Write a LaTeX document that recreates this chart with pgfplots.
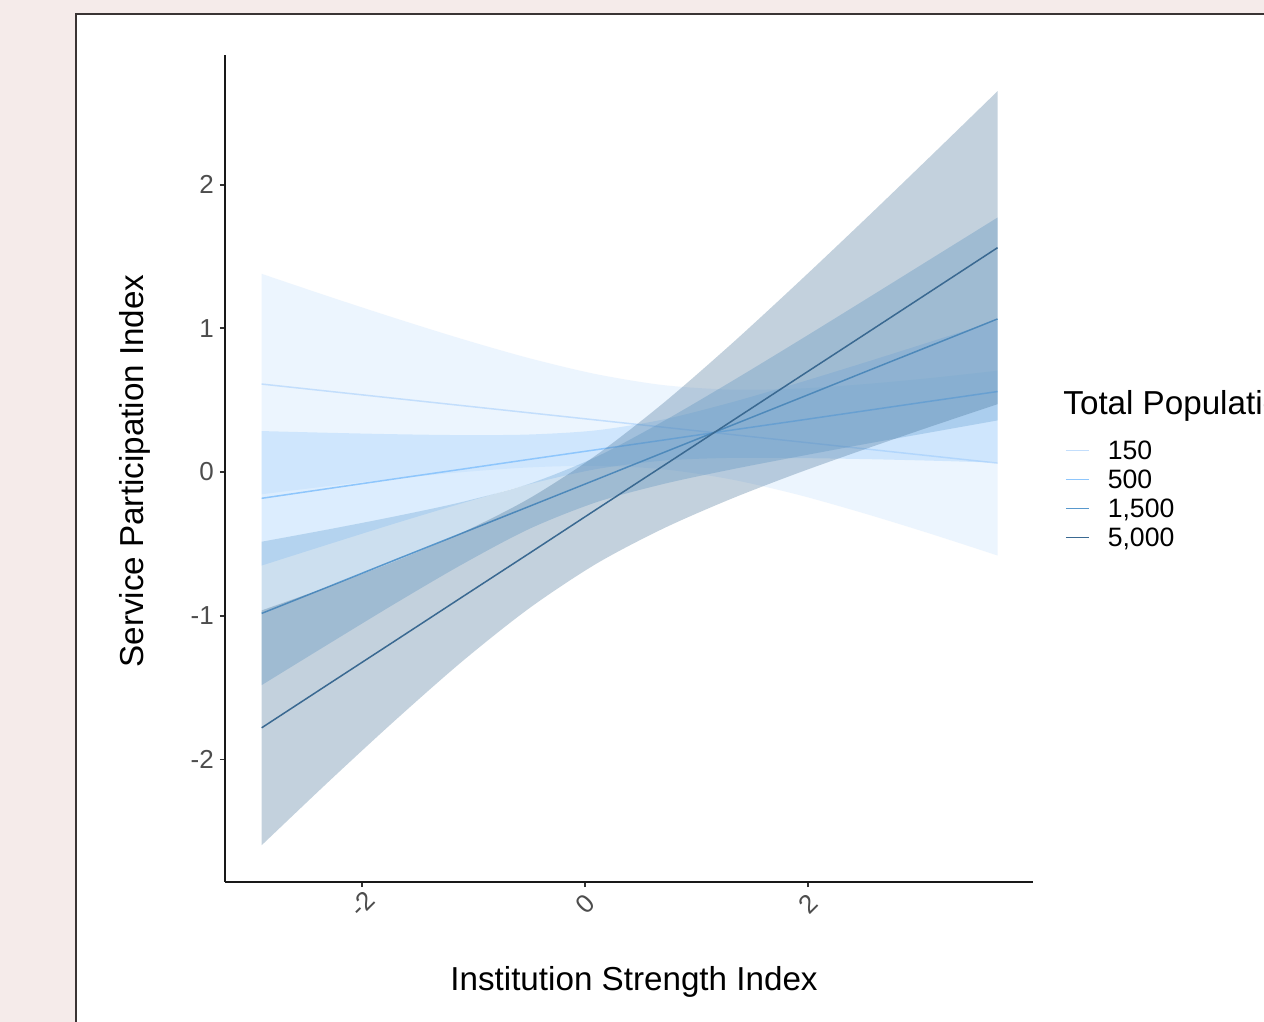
\documentclass[border=0pt]{standalone}
\usepackage{fontspec}
\setmainfont{Liberation Sans}
\usepackage{pgfplots}
\usepackage{pgfplotstable}
\pgfplotsset{compat=1.18}
\usepgfplotslibrary{fillbetween}

\definecolor{bgpink}{HTML}{F5EBEA}
\definecolor{panelborder}{HTML}{3A3434}
\definecolor{cA}{HTML}{C3DEFC}
\definecolor{cB}{HTML}{8EC6FC}
\definecolor{cC}{HTML}{5898CD}
\definecolor{cD}{HTML}{3A6991}
\definecolor{tickgray}{HTML}{4D4D4D}

% x  lower  upper  fit
\pgfplotstableread{
x lo hi mid
-2.9 -0.155 1.379 0.612
-2.3 -0.098 1.222 0.562
-1.7 -0.046 1.070 0.512
-1.1 -0.001 0.925 0.462
-0.5 0.032 0.792 0.412
0.1 0.043 0.681 0.362
0.7 0.019 0.605 0.312
1.3 -0.050 0.574 0.262
1.9 -0.156 0.580 0.212
2.5 -0.287 0.611 0.162
3.1 -0.430 0.654 0.112
3.7 -0.581 0.705 0.062
}\bandA
\pgfplotstableread{
x lo hi mid
-2.9 -0.651 0.285 -0.183
-2.3 -0.503 0.273 -0.115
-1.7 -0.357 0.263 -0.047
-1.1 -0.217 0.257 0.020
-0.5 -0.085 0.261 0.088
0.1 0.020 0.290 0.155
0.7 0.079 0.365 0.222
1.3 0.098 0.482 0.290
1.9 0.097 0.617 0.357
2.5 0.090 0.760 0.425
3.1 0.079 0.907 0.493
3.7 0.065 1.055 0.560
}\bandB
\pgfplotstableread{
x lo hi mid
-2.9 -1.483 -0.485 -0.984
-2.3 -1.197 -0.399 -0.798
-1.7 -0.914 -0.308 -0.611
-1.1 -0.642 -0.208 -0.425
-0.5 -0.396 -0.082 -0.239
0.1 -0.211 0.105 -0.053
0.7 -0.084 0.352 0.134
1.3 0.016 0.624 0.320
1.9 0.106 0.906 0.506
2.5 0.193 1.193 0.693
3.1 0.276 1.482 0.879
3.7 0.359 1.771 1.065
}\bandC
\pgfplotstableread{
x lo hi mid
-2.9 -2.597 -0.963 -1.780
-2.3 -2.155 -0.797 -1.476
-1.7 -1.726 -0.620 -1.173
-1.1 -1.317 -0.421 -0.869
-0.5 -0.948 -0.184 -0.566
0.1 -0.639 0.117 -0.261
0.7 -0.394 0.478 0.042
1.3 -0.190 0.882 0.346
1.9 -0.010 1.310 0.650
2.5 0.156 1.750 0.953
3.1 0.316 2.198 1.257
3.7 0.472 2.650 1.561
}\bandD

\begin{document}
\begin{tikzpicture}
\begin{axis}[
  set layers,
  at={(0pt,0pt)}, anchor=south west,
  scale only axis,
  width=404pt, height=413.5pt,
  xmin=-3.229, xmax=4.018,
  ymin=-2.853, ymax=2.902,
  axis x line*=bottom, axis y line*=left,
  axis line style={-, line width=0.9pt, color=black!90},
  tick align=outside,
  major tick length=2.6pt,
  tick style={line width=0.9pt, color=black!80},
  xtick={-2,0,2}, ytick={-2,-1,0,1,2},
  /pgf/number format/assume math mode=true,
  ticklabel style={font=\fontsize{13}{15}\selectfont, color=tickgray},
  xticklabel style={yshift=-8.5pt, rotate=45, anchor=center},
  yticklabel style={anchor=east, xshift=0.5pt},
  xlabel={Institution Strength Index},
  ylabel={Service Participation Index},
  label style={font=\fontsize{16.6}{19}\selectfont, color=black},
  xlabel style={at={(axis description cs:0.5062,-0.1306)}, anchor=base},
  ylabel style={at={(axis description cs:-0.1114,0.497)}, anchor=center, rotate=0},
  legend style={at={(axis description cs:1.0396,0.5352)}, anchor=north west,
    draw=none, fill=none, inner sep=0pt, outer sep=0pt,
    font=\fontsize{13.3}{15}\selectfont,
    nodes={inner sep=0pt, text height=10.2pt, text depth=4.3pt, anchor=base west},
    /tikz/every odd column/.append style={column sep=9pt}},
  legend cell align=left,
  legend image code/.code={\draw[#1, line width=0.9pt] (0pt,4.6pt) -- (11.5pt,4.6pt);},
  clip=false,
]
% page background and framed panel, below everything else
\begin{pgfonlayer}{axis background}
\fill[bgpink] ([xshift=-112.5pt,yshift=-70pt]rel axis cs:0,0) rectangle ([xshift=115.5pt,yshift=27.5pt]rel axis cs:1,1);
\filldraw[fill=white, draw=panelborder, line width=1.1pt] ([xshift=-74.5pt,yshift=20.5pt]rel axis cs:0,1) rectangle ([xshift=300pt,yshift=-200pt]rel axis cs:1,0);
\end{pgfonlayer}
% each group: confidence band, then its fitted line (same layer, in order)
\addplot[draw=none, smooth, name path=Ahi, forget plot] table[x=x,y=hi]{\bandA};
\addplot[draw=none, smooth, name path=Alo, forget plot] table[x=x,y=lo]{\bandA};
\addplot[fill=cA, fill opacity=0.3, draw=none, forget plot] fill between[of=Ahi and Alo];
\addplot[cA, line width=0.75pt, mark=none, on layer=pre main] table[x=x,y=mid]{\bandA};
\addlegendentry{150}
\addplot[draw=none, smooth, name path=Bhi, forget plot] table[x=x,y=hi]{\bandB};
\addplot[draw=none, smooth, name path=Blo, forget plot] table[x=x,y=lo]{\bandB};
\addplot[fill=cB, fill opacity=0.3, draw=none, forget plot] fill between[of=Bhi and Blo];
\addplot[cB, line width=0.75pt, mark=none, on layer=pre main] table[x=x,y=mid]{\bandB};
\addlegendentry{500}
\addplot[draw=none, smooth, name path=Chi, forget plot] table[x=x,y=hi]{\bandC};
\addplot[draw=none, smooth, name path=Clo, forget plot] table[x=x,y=lo]{\bandC};
\addplot[fill=cC, fill opacity=0.3, draw=none, forget plot] fill between[of=Chi and Clo];
\addplot[cC, line width=0.75pt, mark=none, on layer=pre main] table[x=x,y=mid]{\bandC};
\addlegendentry{1,500}
\addplot[draw=none, smooth, name path=Dhi, forget plot] table[x=x,y=hi]{\bandD};
\addplot[draw=none, smooth, name path=Dlo, forget plot] table[x=x,y=lo]{\bandD};
\addplot[fill=cD, fill opacity=0.3, draw=none, forget plot] fill between[of=Dhi and Dlo];
\addplot[cD, line width=0.75pt, mark=none, on layer=pre main] table[x=x,y=mid]{\bandD};
\addlegendentry{5,000}
\end{axis}
\node[anchor=base west, font=\fontsize{16.6}{19}\selectfont, inner sep=0pt] at (419pt,233.5pt) {Total Population};
\pgfresetboundingbox
\path[use as bounding box] (-112.5pt,-70pt) rectangle (519.5pt,441pt);
\end{tikzpicture}
\end{document}
